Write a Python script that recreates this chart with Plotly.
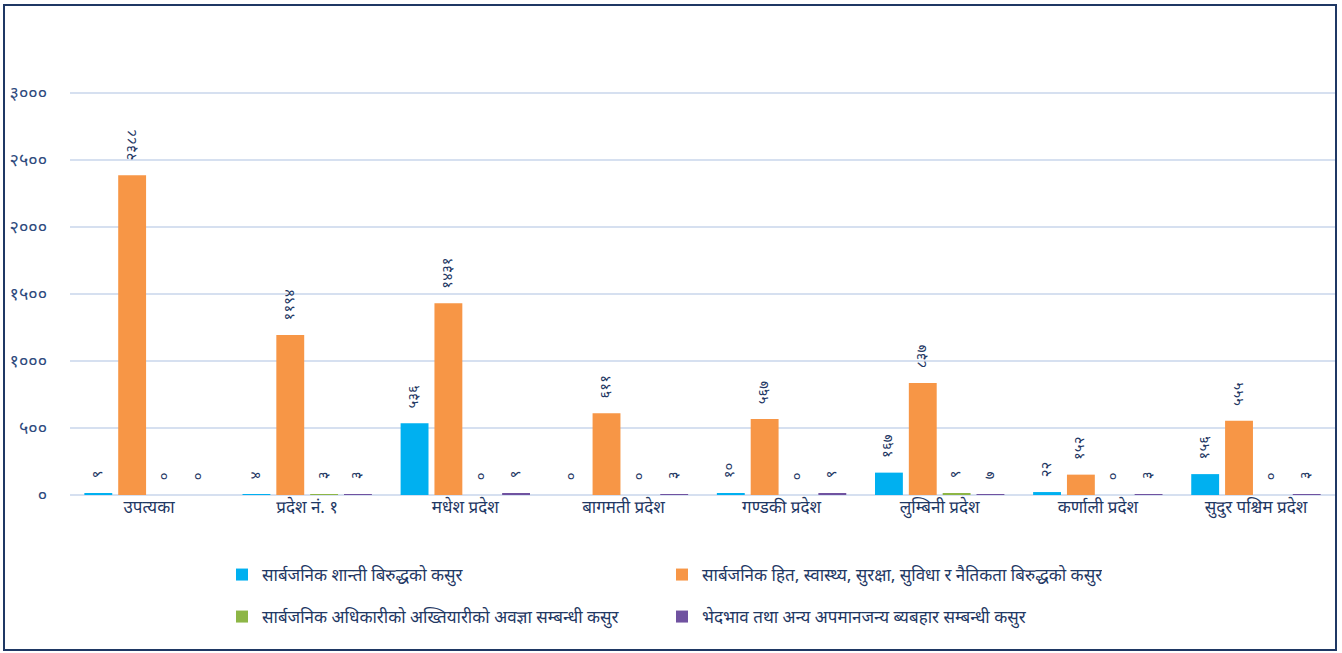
import plotly.graph_objects as go

categories = ["उपत्यका", "प्रदेश नं. १", "मधेश प्रदेश", "बागमती प्रदेश", "गण्डकी प्रदेश",
              "लुम्बिनी प्रदेश", "कर्णाली प्रदेश", "सुदुर पश्चिम प्रदेश"]
series_names = ["सार्बजनिक शान्ती बिरुद्धको कसुर",
                "सार्बजनिक हित, स्वास्थ्य, सुरक्षा, सुविधा र नैतिकता बिरुद्धको कसुर",
                "सार्बजनिक अधिकारीको अख्तियारीको अवज्ञा सम्बन्धी कसुर",
                "भेदभाव तथा अन्य अपमानजन्य ब्यबहार सम्बन्धी कसुर"]
peace = [9, 4, 536, 0, 10, 167, 22, 156]
public_health = [2388, 1194, 1431, 611, 567, 837, 152, 555]
authority = [0, 3, 0, 0, 0, 9, 0, 0]
discrimination = [0, 3, 9, 3, 9, 7, 3, 3]
tick_values = [0, 500, 1000, 1500, 2000, 2500, 3000]

colors = ["#00B0F0", "#F79646", "#8DB646", "#7052A0"]
NAVY = "#1F3864"
FONT = "Noto Sans Devanagari, Noto Sans, Lohit Devanagari, sans-serif"

DEV = str.maketrans("0123456789", "०१२३४५६७८९")


def dev(n):
    return str(n).translate(DEV)


PAD = "\u00a0" * 3

fig = go.Figure()
all_series = [peace, public_health, authority, discrimination]
for i, (name, vals) in enumerate(zip(series_names, all_series)):
    fig.add_trace(go.Bar(
        x=categories, y=vals, name=name,
        marker=dict(color=colors[i], line=dict(width=0)),
        text=[PAD + dev(v) for v in vals], textposition="outside",
        textangle=-90, constraintext="none", cliponaxis=False,
        textfont=dict(size=15, color=NAVY, family=FONT),
        legend="legend" if i < 2 else "legend2",
        hoverinfo="x+y",
    ))

L, R, T, B = 70, 7, 53, 158
W, H = 1342, 653
pw, ph = W - L - R, H - T - B


def px(x):
    return (x - L) / pw


def py(y):
    return (H - B - y) / ph


fig.update_layout(
    width=W, height=H,
    margin=dict(l=L, r=R, t=T, b=B, pad=0),
    paper_bgcolor="white", plot_bgcolor="white",
    barmode="group", bargap=0.144, bargroupgap=0.176,
    font=dict(family=FONT, color=NAVY),
    xaxis=dict(showline=False, ticks="", tickfont=dict(size=17, color=NAVY, family=FONT),
               showgrid=False),
    yaxis=dict(range=[0, 3300], tickvals=tick_values, ticktext=[dev(v) for v in tick_values],
               showgrid=True, gridcolor="#D6E0F0", gridwidth=1.5, zeroline=True,
               zerolinecolor="#D6E0F0", zerolinewidth=1.5, ticks="", ticklabelstandoff=22,
               tickfont=dict(size=18, color="#2E4A7D", family=FONT)),
    legend=dict(orientation="h", x=px(222), y=py(575), xanchor="left", yanchor="middle",
                entrywidth=395, entrywidthmode="pixels", font=dict(size=17, color=NAVY, family=FONT),
                bgcolor="rgba(0,0,0,0)", itemclick=False),
    legend2=dict(orientation="h", x=px(222), y=py(617), xanchor="left", yanchor="middle",
                 entrywidth=395, entrywidthmode="pixels", font=dict(size=17, color=NAVY, family=FONT),
                 bgcolor="rgba(0,0,0,0)", itemclick=False),
    shapes=[dict(type="rect", xref="paper", yref="paper",
                 x0=px(4), x1=px(1336), y0=py(650), y1=py(5),
                 line=dict(color=NAVY, width=2), fillcolor="rgba(0,0,0,0)", layer="below")],
    showlegend=True,
)

fig.write_html("out.html", config={"displayModeBar": False},
               post_script="document.body.style.margin='0';document.body.style.overflow='hidden';")
